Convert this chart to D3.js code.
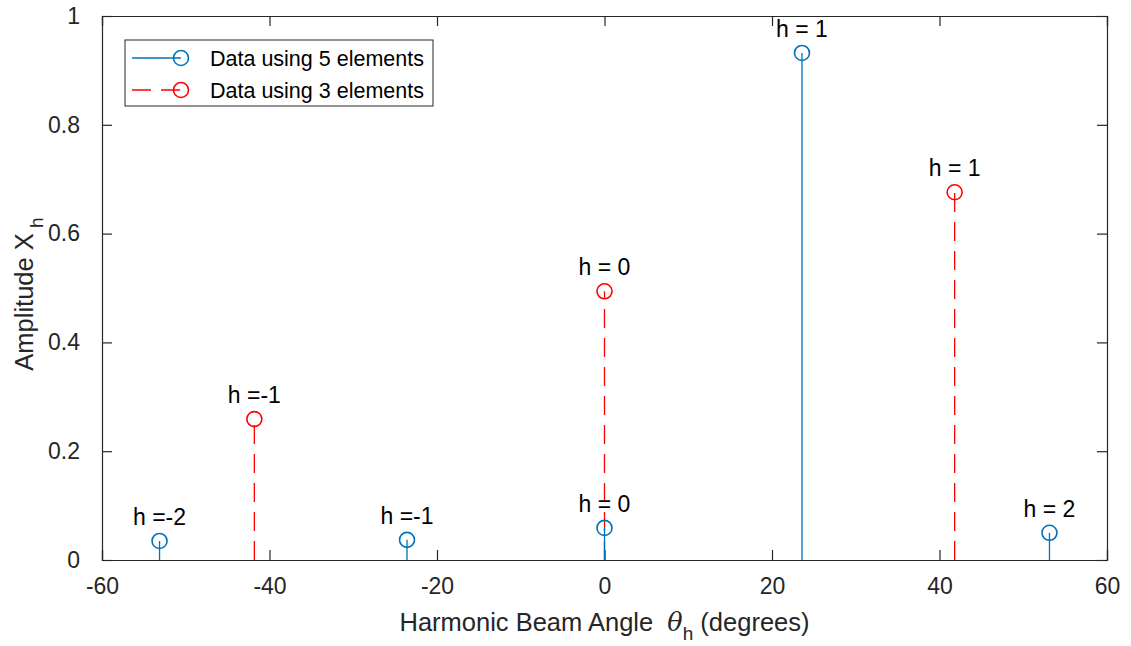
<!DOCTYPE html>
<html>
<head>
<meta charset="utf-8">
<script src="https://cdn.jsdelivr.net/npm/d3@7"></script>
<style>
  body { margin: 0; background: #fff; }
  svg { display: block; font-family: "Liberation Sans", Arial, sans-serif; }
</style>
</head>
<body>
<svg id="chart" width="1131" height="646"></svg>
<script>
// Harmonic beam angles (degrees) and amplitudes
const harmonics5 = [-2, -1, 0, 1, 2];
const angles5 = [-53.13, -23.58, 0, 23.58, 53.13];
const amps5 = [0.035, 0.037, 0.059, 0.932, 0.050];

const harmonics3 = [-1, 0, 1];
const angles3 = [-41.81, 0, 41.81];
const amps3 = [0.259, 0.494, 0.676];

const xTicks = [-60, -40, -20, 0, 20, 40, 60];
const yTicks = [0, 0.2, 0.4, 0.6, 0.8, 1];
const legendLabels = ["Data using 5 elements", "Data using 3 elements"];

const blue = "#0072BD", red = "#FF0000", axisCol = "#262626";
const fontFam = "'Liberation Sans', Arial, sans-serif";

const svg = d3.select("#chart");
const m = { left: 102, right: 1107, top: 16, bottom: 560 };
const x = d3.scaleLinear().domain([-60, 60]).range([m.left, m.right]);
const y = d3.scaleLinear().domain([0, 1]).range([m.bottom, m.top]);

// Axes with inward ticks, mirrored on top and right
const tickLen = 10;
const gx = svg.append("g").attr("transform", `translate(0,${m.bottom})`)
  .call(d3.axisBottom(x).tickValues(xTicks).tickSize(-tickLen).tickPadding(18).tickFormat(d => String(d)));
const gxTop = svg.append("g").attr("transform", `translate(0,${m.top})`)
  .call(d3.axisTop(x).tickValues(xTicks).tickSize(-tickLen).tickFormat(""));
const gy = svg.append("g").attr("transform", `translate(${m.left},0)`)
  .call(d3.axisLeft(y).tickValues(yTicks).tickSize(-tickLen).tickPadding(22).tickFormat(d => String(d)));
const gyR = svg.append("g").attr("transform", `translate(${m.right},0)`)
  .call(d3.axisRight(y).tickValues(yTicks).tickSize(-tickLen).tickFormat(""));
[gx, gxTop, gy, gyR].forEach(g => {
  g.attr("font-family", fontFam).attr("font-size", 23);
  g.select(".domain").attr("stroke", axisCol).attr("stroke-width", 1.2);
  g.selectAll(".tick line").attr("stroke", axisCol).attr("stroke-width", 1.2);
  g.selectAll(".tick text").attr("fill", axisCol);
});
gx.selectAll(".tick text").attr("dy", "0.71em");

// Stem series
const s5 = harmonics5.map((h, i) => ({ h, a: angles5[i], v: amps5[i] }));
const s3 = harmonics3.map((h, i) => ({ h, a: angles3[i], v: amps3[i] }));

function drawStems(data, color, dash) {
  const g = svg.append("g");
  g.selectAll("line").data(data).join("line")
    .attr("x1", d => x(d.a)).attr("x2", d => x(d.a))
    .attr("y1", y(0)).attr("y2", d => y(d.v))
    .attr("stroke", color).attr("stroke-width", 1.3)
    .attr("stroke-dasharray", dash);
  g.selectAll("circle").data(data).join("circle")
    .attr("cx", d => x(d.a)).attr("cy", d => y(d.v)).attr("r", 7.5)
    .attr("fill", "none").attr("stroke", color).attr("stroke-width", 1.6);
  g.selectAll("text").data(data).join("text")
    .attr("x", d => x(d.a)).attr("y", d => y(d.v) - 16)
    .attr("text-anchor", "middle").attr("font-size", 23).attr("fill", "#000")
    .text(d => d.h < 0 ? `h =${d.h}` : `h = ${d.h}`);
}
drawStems(s3, red, "19,10");
drawStems(s5, blue, null);

// Axis titles
const xt = svg.append("text").attr("x", (m.left + m.right) / 2).attr("y", 631)
  .attr("text-anchor", "middle").attr("font-size", 25.5).attr("fill", axisCol);
xt.append("tspan").text("Harmonic Beam Angle\u00A0\u00A0");
xt.append("tspan").attr("font-family", "'DejaVu Serif', 'Liberation Serif', serif").attr("font-style", "italic").text("θ");
xt.append("tspan").attr("font-size", 19).attr("dy", 9).text("h");
xt.append("tspan").attr("dy", -9).text("\u00A0(degrees)");

const yt = svg.append("text").attr("transform", `translate(33,294) rotate(-90)`)
  .attr("text-anchor", "middle").attr("font-size", 25.5).attr("fill", axisCol);
yt.append("tspan").text("Amplitude X");
yt.append("tspan").attr("font-size", 19).attr("dy", 10).text("\u00A0h");

// Legend
const lg = svg.append("g");
lg.append("rect").attr("x", 125).attr("y", 40).attr("width", 308).attr("height", 66)
  .attr("fill", "#fff").attr("stroke", axisCol).attr("stroke-width", 1);
const rows = [{ c: blue, dash: null }, { c: red, dash: "19,10" }];
rows.forEach((r, i) => {
  const yy = 58 + i * 32;
  lg.append("line").attr("x1", 132).attr("x2", 181).attr("y1", yy).attr("y2", yy)
    .attr("stroke", r.c).attr("stroke-width", 1.3).attr("stroke-dasharray", r.dash);
  lg.append("circle").attr("cx", 181).attr("cy", yy).attr("r", 7.5)
    .attr("fill", "none").attr("stroke", r.c).attr("stroke-width", 1.6);
  lg.append("text").attr("x", 210).attr("y", yy + 8)
    .attr("font-size", 21.5).attr("fill", "#000").text(legendLabels[i]);
});
</script>
</body>
</html>
